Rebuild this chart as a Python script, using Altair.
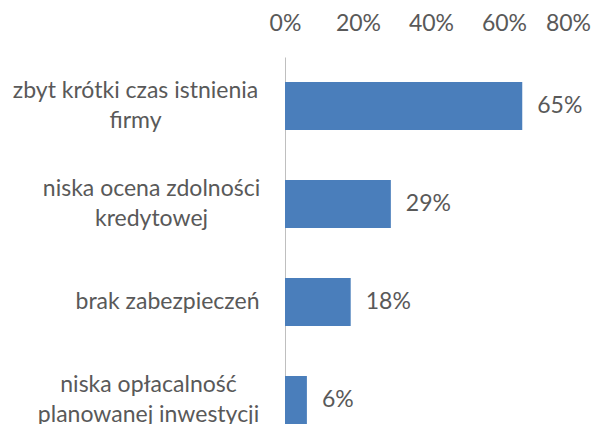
import json
import altair as alt
import pandas as pd

categories = [
    "zbyt krótki czas istnienia\nfirmy",
    "niska ocena zdolności\nkredytowej",
    "brak zabezpieczeń",
    "niska opłacalność\nplanowanej inwestycji",
]
values = [0.65, 0.29, 0.18, 0.06]
x_ticks = [0, 0.2, 0.4, 0.6, 0.8]

# per-label offset of the centred label block from the axis (layout styling only)
label_pad = [150, 134, 118, 137]

df = pd.DataFrame({"kategoria": categories, "udzial": values})

FONT = "Lato"
FS = 23
LH = 30
TXT = "#595959"
BAR = "#4a7ebb"

pad_cond = {
    "condition": [
        {"test": f"datum.value == {json.dumps(c)}", "value": p}
        for c, p in zip(categories, label_pad)
    ],
    "value": 137,
}

# centre two-line labels on their bar
y_offset_cond = {
    "condition": {"test": "indexof(datum.value, '\\n') >= 0", "value": -LH / 2},
    "value": 0,
}

y_enc = alt.Y(
    "kategoria:N",
    sort=categories,
    title=None,
    scale=alt.Scale(paddingInner=0.51, paddingOuter=0.1276, align=1),
    axis=alt.Axis(
        domainColor="#bfbfbf",
        domainWidth=1,
        ticks=False,
        tickSize=0,
        labelAlign="center",
        labelBaseline="middle",
        labelExpr="split(datum.label, '\\n')",
        labelLineHeight=LH,
        labelFont=FONT,
        labelFontSize=FS,
        labelColor=TXT,
        labelLimit=400,
        labelPadding=pad_cond,
        labelOffset=y_offset_cond,
        grid=False,
    ),
)

x_enc = alt.X(
    "udzial:Q",
    title=None,
    scale=alt.Scale(domain=[0, 0.8], nice=False, zero=True),
    axis=alt.Axis(
        orient="top",
        values=x_ticks,
        format=".0%",
        domain=False,
        ticks=False,
        tickSize=0,
        grid=False,
        labelFlush=False,
        labelPadding=22,
        labelOffset={"condition": {"test": "datum.value >= 0.79", "value": -9}, "value": 0},
        labelFont=FONT,
        labelFontSize=FS,
        labelColor=TXT,
    ),
)

bars = alt.Chart(df).mark_bar(color=BAR).encode(x=x_enc, y=y_enc)

labels = alt.Chart(df).mark_text(
    align="left", baseline="middle", dx=15, font=FONT, fontSize=FS, color=TXT
).encode(
    x=alt.X("udzial:Q"),
    y=alt.Y("kategoria:N", sort=categories),
    text=alt.Text("udzial:Q", format=".0%"),
)

chart = (
    alt.layer(bars, labels)
    .properties(
        width=292,
        height=367,
        autosize="none",
        padding={"left": 277, "top": 49, "right": 16, "bottom": 0},
        background="white",
    )
    .configure_view(stroke=None)
)

chart.save("out.html", embed_options={"renderer": "svg", "actions": False})
